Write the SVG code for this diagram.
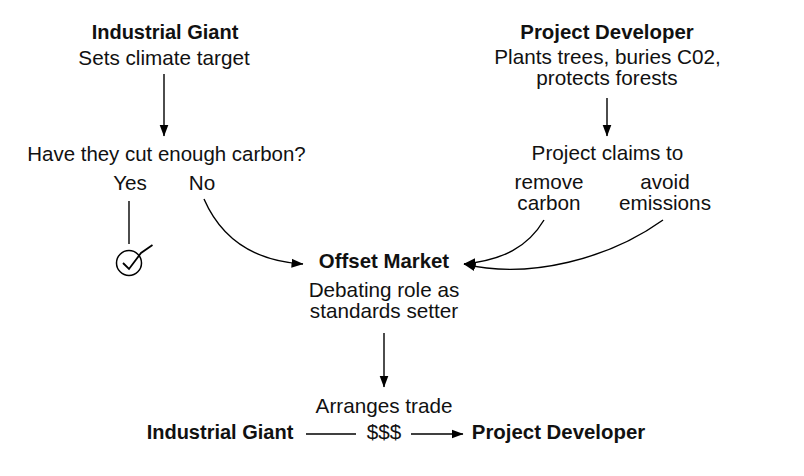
<svg xmlns="http://www.w3.org/2000/svg" width="804" height="476" viewBox="0 0 804 476">
<defs><marker id="a" viewBox="0 0 12 10" refX="11.5" refY="5" markerWidth="12" markerHeight="10" markerUnits="userSpaceOnUse" orient="auto"><path d="M0 0.5L12 5L0 9.5Z" fill="#000"/></marker></defs>
<style>text{font-family:"Liberation Sans",Arial,sans-serif;font-size:20.700px;fill:#111;text-anchor:middle}.b{font-weight:700;font-size:20.400px}.g{font-weight:700;font-size:20px}.q{font-size:20.450px}.c{fill:none;stroke:#000;stroke-width:1.4}</style>
<rect width="804" height="476" fill="#fff"/>
<g id="connectors">
<path class="c" marker-end="url(#a)" d="M164 74V136"/>
<path class="c" marker-end="url(#a)" d="M607 98V136"/>
<path class="c" d="M129 201V244"/>
<path class="c" marker-end="url(#a)" d="M204 199C221 238 254 261 303 264"/>
<path class="c" marker-end="url(#a)" d="M544 220C528 247 503 260 464 264"/>
<path class="c" marker-end="url(#a)" d="M663 220C610 258 530 280 464 264"/>
<path class="c" marker-end="url(#a)" d="M384 333V387"/>
<path class="c" d="M306 434H356"/>
<path class="c" marker-end="url(#a)" d="M411 434H463"/>
</g>
<g id="giant"><text class="g" x="165" y="39">Industrial Giant</text><text x="164" y="65">Sets climate target</text></g>
<g id="developer"><text class="b" x="607" y="39">Project Developer</text><text x="607.500" y="64">Plants trees, buries C02,</text><text x="607" y="85">protects forests</text></g>
<g id="question"><text class="q" x="166.500" y="161">Have they cut enough carbon?</text><text x="130" y="190">Yes</text><text x="202" y="190">No</text></g>
<g id="check"><circle cx="129" cy="263" r="12.500" fill="none" stroke="#000" stroke-width="1.500"/><path fill="none" stroke="#000" stroke-width="1.800" d="M123 263L129 269L141 253L152.500 245"/></g>
<g id="claims"><text x="607.500" y="160">Project claims to</text><text x="549" y="189">remove</text><text x="549" y="210">carbon</text><text x="665" y="189">avoid</text><text x="665" y="210">emissions</text></g>
<g id="market"><text class="b" x="384" y="268">Offset Market</text><text x="384" y="297">Debating role as</text><text x="384" y="318">standards setter</text></g>
<g id="trade"><text x="384" y="413">Arranges trade</text><text class="g" x="220" y="439">Industrial Giant</text><text x="384" y="439">$$$</text><text class="b" x="558.500" y="439">Project Developer</text></g>
</svg>
